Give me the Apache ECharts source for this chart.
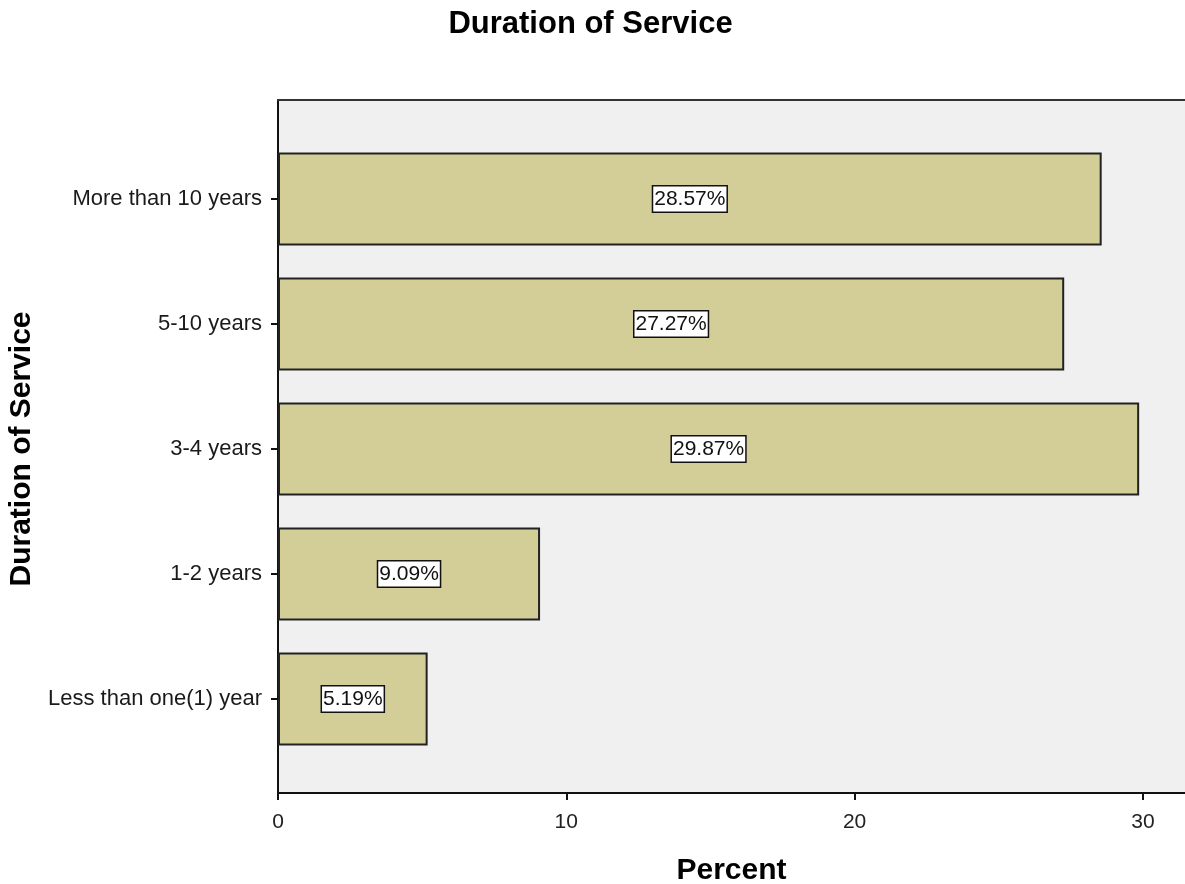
<!DOCTYPE html>
<html>
<head>
<meta charset="utf-8">
<script src="https://cdn.jsdelivr.net/npm/echarts@6/dist/echarts.min.js"></script>
<style>
html,body{margin:0;padding:0;background:#fff;}
#chart{width:1185px;height:884px;}
</style>
</head>
<body>
<div id="chart"></div>
<script>
var categories = ['More than 10 years', '5-10 years', '3-4 years', '1-2 years', 'Less than one(1) year'];
var percents = [28.57, 27.27, 29.87, 9.09, 5.19];
var xTicks = [0, 10, 20, 30];

var FONT = '"Liberation Sans", Arial, sans-serif';
var XMAX = 31.46;

var chart = echarts.init(document.getElementById('chart'));
chart.setOption({
  animation: false,
  backgroundColor: '#fff',
  title: {
    text: 'Duration of Service',
    left: 585.5,
    textAlign: 'center',
    top: 4,
    textStyle: {fontFamily: FONT, fontSize: 31, fontWeight: 'bold', color: '#000'}
  },
  grid: [
    {left: 278, top: 100, width: 907, height: 693, show: true, backgroundColor: '#f0f0f0', borderWidth: 0, containLabel: false, outerBoundsMode: 'none'},
    {left: 278, top: 136.5, width: 907, height: 625, containLabel: false, outerBoundsMode: 'none'}
  ],
  xAxis: [
    {
      gridIndex: 0, type: 'value', min: 0, max: XMAX, interval: 10,
      name: 'Percent', nameLocation: 'middle', nameGap: 63,
      nameTextStyle: {fontFamily: FONT, fontSize: 30, fontWeight: 'bold', color: '#000'},
      axisLine: {show: true, lineStyle: {color: '#111', width: 2}},
      axisTick: {show: true, length: 7, lineStyle: {color: '#111', width: 2}},
      axisLabel: {
        show: true, margin: 19, fontFamily: FONT, fontSize: 21, color: '#222', showMaxLabel: false,
        formatter: function (v) { return xTicks.indexOf(v) >= 0 ? String(v) : ''; }
      },
      splitLine: {show: false}
    },
    {
      gridIndex: 1, type: 'value', min: 0, max: XMAX, interval: 10, show: false,
      splitLine: {show: false}
    },
    {
      gridIndex: 0, type: 'value', position: 'top', min: 0, max: XMAX,
      axisLine: {show: true, lineStyle: {color: '#333', width: 2}},
      axisTick: {show: false}, axisLabel: {show: false}, splitLine: {show: false}
    }
  ],
  yAxis: [
    {
      gridIndex: 0, type: 'value', min: 0, max: 1,
      axisLine: {show: true, lineStyle: {color: '#111', width: 2}},
      axisTick: {show: false}, axisLabel: {show: false}, splitLine: {show: false}
    },
    {
      gridIndex: 1, type: 'category', data: categories, inverse: true,
      name: 'Duration of Service', nameLocation: 'middle', nameGap: 239, nameRotate: 90,
      nameTextStyle: {fontFamily: FONT, fontSize: 30, fontWeight: 'bold', color: '#000'},
      axisLine: {show: false},
      axisTick: {show: true, alignWithLabel: true, length: 7, lineStyle: {color: '#111', width: 2}},
      axisLabel: {margin: 16, fontFamily: FONT, fontSize: 22, color: '#1a1a1a'},
      splitLine: {show: false}
    }
  ],
  series: [{
    type: 'bar',
    xAxisIndex: 1,
    yAxisIndex: 1,
    data: percents,
    barWidth: 93,
    itemStyle: {color: '#d3ce98', borderColor: '#222', borderWidth: 2},
    label: {
      show: true, position: 'inside',
      formatter: function (p) { return p.value.toFixed(2) + '%'; },
      fontFamily: FONT, fontSize: 21, color: '#111',
      backgroundColor: '#fff', borderColor: '#111', borderWidth: 1.5,
      padding: [3, 1, 1, 1]
    }
  }]
});
</script>
</body>
</html>
